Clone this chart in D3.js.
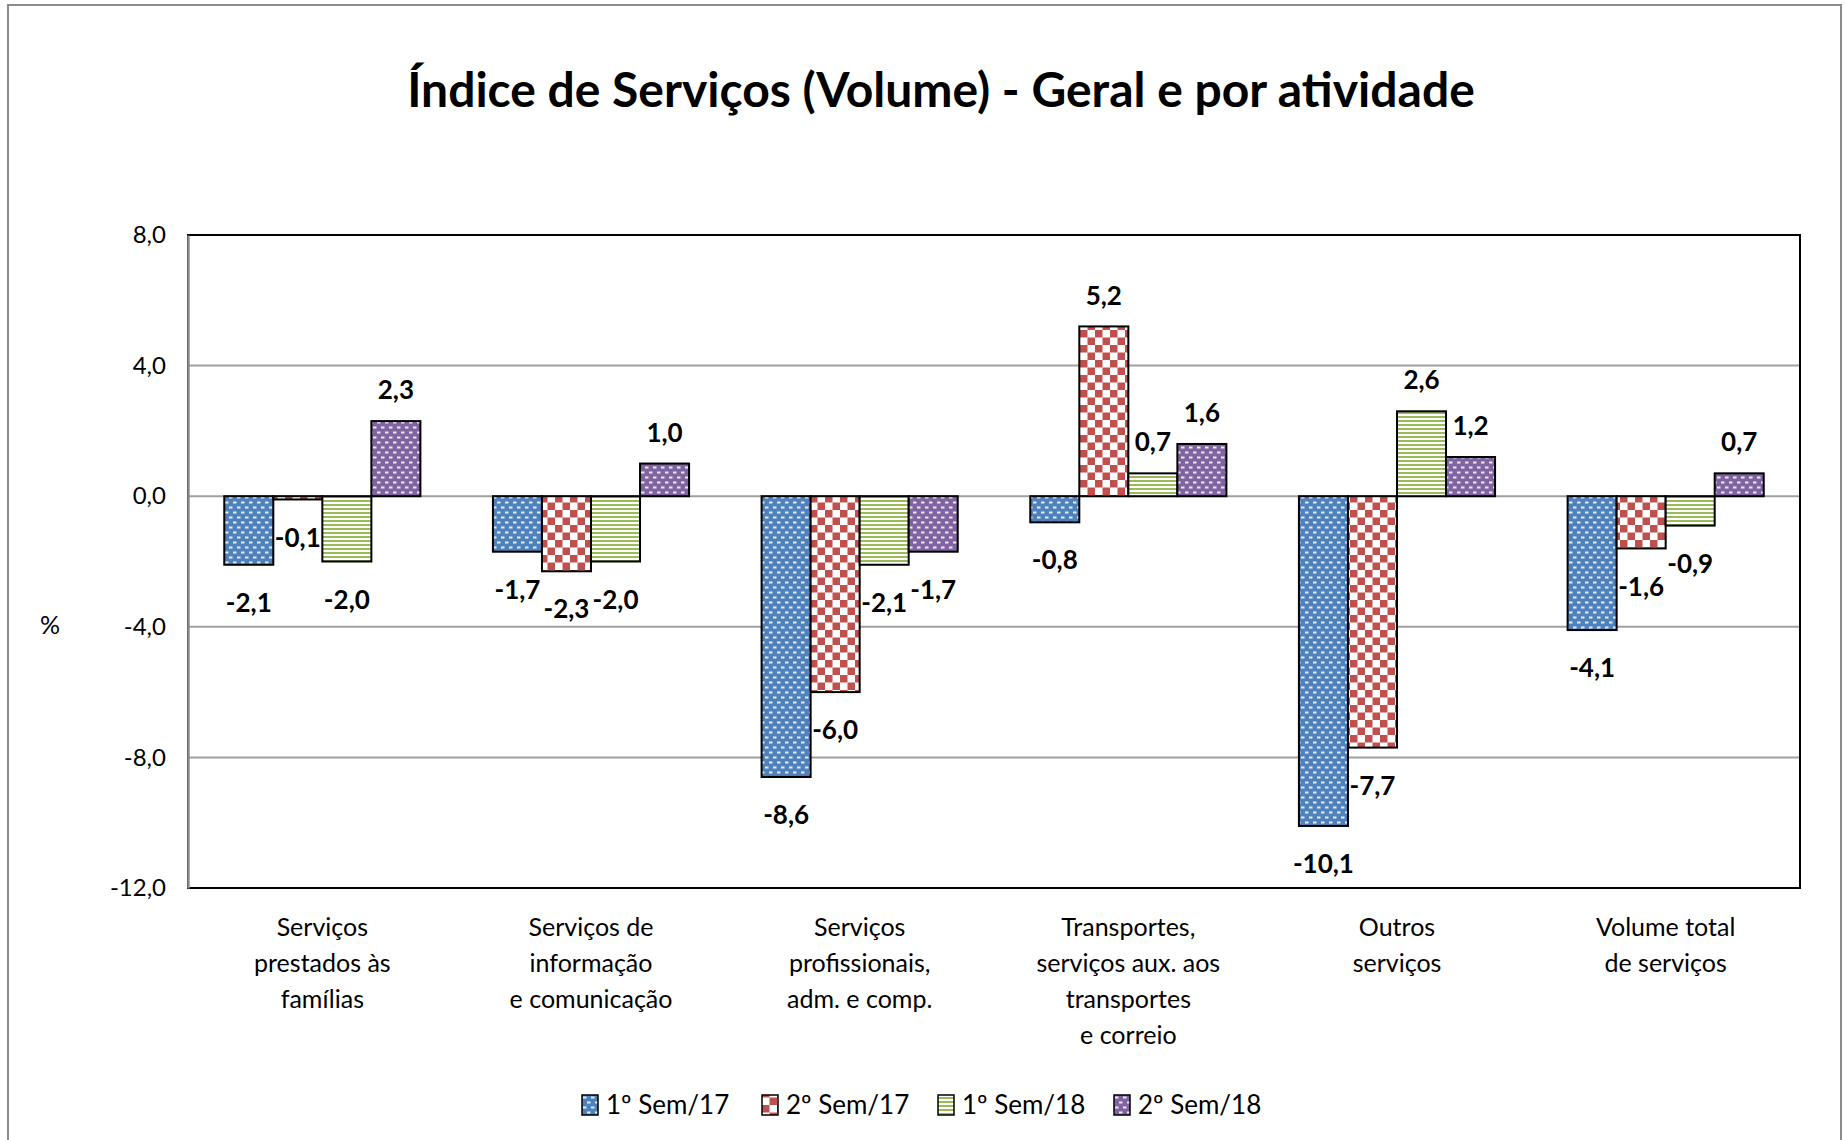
<!DOCTYPE html>
<html>
<head>
<meta charset="utf-8">
<script src="https://cdn.jsdelivr.net/npm/d3@7"></script>
<style>
  body { margin: 0; background: #fff; }
  svg text { font-family: Lato, "Open Sans", sans-serif; fill: #000; }
</style>
</head>
<body>
<div id="chart"></div>
<script>
var categories = [
    ["Serviços", "prestados às", "famílias"],
    ["Serviços de", "informação", "e comunicação"],
    ["Serviços", "profissionais,", "adm. e comp."],
    ["Transportes,", "serviços aux. aos", "transportes", "e correio"],
    ["Outros", "serviços"],
    ["Volume total", "de serviços"]
];
var seriesNames = ["1º Sem/17", "2º Sem/17", "1º Sem/18", "2º Sem/18"];
var sem1_17 = [-2.1, -1.7, -8.6, -0.8, -10.1, -4.1];
var sem2_17 = [-0.1, -2.3, -6.0, 5.2, -7.7, -1.6];
var sem1_18 = [-2.0, -2.0, -2.1, 0.7, 2.6, -0.9];
var sem2_18 = [2.3, 1.0, -1.7, 1.6, 1.2, 0.7];
var yTicks = [-12, -8, -4, 0, 4, 8];

var title = "Índice de Serviços (Volume) - Geral e por atividade";
var yLabel = "%";

var width = 1845, height = 1140;
var plot = {left: 188, right: 1800, top: 235, bottom: 888};

var svg = d3.select('#chart').append('svg')
    .attr('width', width)
    .attr('height', height);

var defs = svg.append('defs');

// white dashes on a solid colour (blue, purple)
function dashPattern(id, color) {
    var p = defs.append('pattern').attr('id', id)
	.attr('patternUnits', 'userSpaceOnUse').attr('width', 8).attr('height', 10);
    p.append('rect').attr('width', 8).attr('height', 10).attr('fill', color);
    [[1, 1.5, 3.5], [5, 6.5, 3], [0, 6.5, 0.5]].forEach(function(r) {
	p.append('rect').attr('x', r[0]).attr('y', r[1]).attr('width', r[2]).attr('height', 2)
	    .attr('fill', '#fff').attr('opacity', 0.85);
    });
}
dashPattern('pat0', '#4F81BD');
dashPattern('pat3', '#8064A2');

// red: checkerboard
var pRed = defs.append('pattern').attr('id', 'pat1')
    .attr('patternUnits', 'userSpaceOnUse').attr('width', 15).attr('height', 15);
pRed.append('rect').attr('width', 15).attr('height', 15).attr('fill', '#fff');
pRed.append('rect').attr('x', 0).attr('y', 0).attr('width', 7.5).attr('height', 7.5).attr('fill', '#C0504D');
pRed.append('rect').attr('x', 7.5).attr('y', 7.5).attr('width', 7.5).attr('height', 7.5).attr('fill', '#C0504D');

// green: horizontal stripes
var pGreen = defs.append('pattern').attr('id', 'pat2')
    .attr('patternUnits', 'userSpaceOnUse').attr('width', 8).attr('height', 4);
pGreen.append('rect').attr('width', 8).attr('height', 4).attr('fill', '#fff');
pGreen.append('rect').attr('y', 0).attr('width', 8).attr('height', 2).attr('fill', '#9BBB59');

var seriesValues = [sem1_17, sem2_17, sem1_18, sem2_18];
var data = [];
categories.forEach(function(c, ci) {
    seriesValues.forEach(function(vals, si) {
	data.push({cat: ci, s: si, v: vals[ci]});
    });
});

function fmt(v) {
    return (v < 0 ? "-" : "") + Math.abs(v).toFixed(1).replace(".", ",");
}

// outer frame
svg.append('rect')
    .attr('x', 8).attr('y', 5)
    .attr('width', 1833).attr('height', 1150)
    .attr('fill', 'none')
    .attr('stroke', '#8c8c8c')
    .attr('stroke-width', 2);

svg.append('text')
    .attr('x', 941)
    .attr('y', 107)
    .attr('text-anchor', 'middle')
    .attr('font-size', 48)
    .attr('font-weight', 'bold')
    .text(title);

var x = d3.scaleBand()
    .domain(d3.range(categories.length))
    .range([plot.left, plot.right])
    .paddingInner(0.27)
    .paddingOuter(0.135);

var xs = d3.scaleBand()
    .domain(d3.range(seriesNames.length))
    .range([0, x.bandwidth()]);

var y = d3.scaleLinear()
    .domain([-12, 8])
    .range([plot.bottom, plot.top]);

// gridlines
svg.append('g').selectAll('line')
    .data(yTicks)
    .enter().append('line')
    .attr('x1', plot.left).attr('x2', plot.right)
    .attr('y1', function(d) { return y(d); })
    .attr('y2', function(d) { return y(d); })
    .attr('stroke', '#a0a0a0')
    .attr('stroke-width', 2);

// plot frame
svg.append('rect')
    .attr('x', plot.left).attr('y', plot.top)
    .attr('width', plot.right - plot.left)
    .attr('height', plot.bottom - plot.top)
    .attr('fill', 'none')
    .attr('stroke', '#000')
    .attr('stroke-width', 2);

// y axis
var yAxis = svg.append('g')
    .attr('transform', 'translate(' + plot.left + ',0)')
    .call(d3.axisLeft(y).tickValues(yTicks).tickFormat(fmt).tickSize(0).tickPadding(22));
yAxis.select('.domain').attr('stroke', '#8c8c8c').attr('stroke-width', 2.5);
yAxis.selectAll('text')
    .attr('font-size', 24)
    .style('font-family', 'Lato, "Open Sans", sans-serif');

svg.append('text')
    .attr('x', 50)
    .attr('y', 625)
    .attr('dy', '0.35em')
    .attr('text-anchor', 'middle')
    .attr('font-size', 25)
    .text(yLabel);

// bars
svg.append('g').selectAll('rect')
    .data(data)
    .enter().append('rect')
    .attr('x', function(d) { return x(d.cat) + xs(d.s); })
    .attr('width', xs.bandwidth())
    .attr('y', function(d) { return y(Math.max(0, d.v)); })
    .attr('height', function(d) { return Math.abs(y(d.v) - y(0)); })
    .attr('fill', function(d) { return 'url(#pat' + d.s + ')'; })
    .attr('stroke', '#000')
    .attr('stroke-width', 2);

// value labels
svg.append('g').selectAll('text')
    .data(data)
    .enter().append('text')
    .attr('x', function(d) { return x(d.cat) + xs(d.s) + xs.bandwidth() / 2; })
    .attr('y', function(d) { return d.v >= 0 ? y(d.v) - 31 : y(d.v) + 38; })
    .attr('dy', '0.35em')
    .attr('text-anchor', 'middle')
    .attr('font-size', 26)
    .attr('font-weight', 'bold')
    .text(function(d) { return fmt(d.v); });

// category labels
var catLabel = svg.append('g').selectAll('text')
    .data(categories)
    .enter().append('text')
    .attr('text-anchor', 'middle')
    .attr('font-size', 25)
    .attr('transform', function(d, i) {
	return 'translate(' + (x(i) + x.bandwidth() / 2) + ',936)';
    });
catLabel.selectAll('tspan')
    .data(function(d) { return d; })
    .enter().append('tspan')
    .attr('x', 0)
    .attr('y', function(d, i) { return i * 36; })
    .text(function(d) { return d; });

// legend
var legendX = [582, 762, 938, 1114];
var legend = svg.append('g').selectAll('g')
    .data(seriesNames)
    .enter().append('g')
    .attr('transform', function(d, i) { return 'translate(' + legendX[i] + ',1105)'; });
legend.append('rect')
    .attr('x', 0).attr('y', -10)
    .attr('width', 16).attr('height', 20)
    .attr('fill', function(d, i) { return 'url(#pat' + i + ')'; })
    .attr('stroke', '#000')
    .attr('stroke-width', 1.5);
legend.append('text')
    .attr('x', 24)
    .attr('dy', '0.35em')
    .attr('font-size', 26)
    .text(function(d) { return d; });
</script>
</body>
</html>
